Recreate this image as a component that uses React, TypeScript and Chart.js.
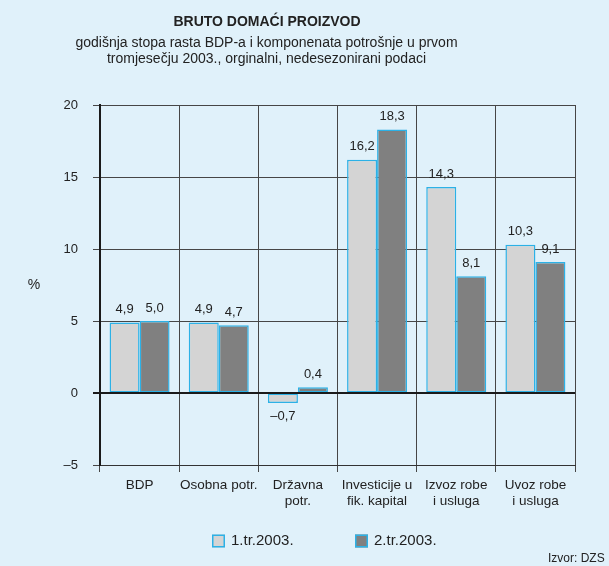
import React, { useEffect, useRef } from "react";
import { Chart, registerables } from "chart.js";

Chart.register(...registerables);

const categories: (string | string[])[] = [
  "BDP",
  "Osobna potr.",
  ["Državna", "potr."],
  ["Investicije u", "fik. kapital"],
  ["Izvoz robe", "i usluga"],
  ["Uvoz robe", "i usluga"],
];
const q1Values = [4.9, 4.9, -0.7, 16.2, 14.3, 10.3];
const q2Values = [5.0, 4.7, 0.4, 18.3, 8.1, 9.1];
const seriesNames = ["1.tr.2003.", "2.tr.2003."];
const yTicksMin = -5;
const yTicksMax = 20;
const yStep = 5;
const titleText = "BRUTO DOMAĆI PROIZVOD";
const subtitleLines = [
  "godišnja stopa rasta BDP-a i komponenata potrošnje u prvom",
  "tromjesečju 2003., orginalni, nedesezonirani podaci",
];
const yUnit = "%";
const sourceText = "Izvor: DZS";

const FONT = "'Liberation Sans', Arial, Helvetica, sans-serif";
const BG = "#e0f1fa";
const LIGHT = "#d4d4d4";
const DARK = "#808080";
const CYAN = "#2cb1e6";
const GRID = "#464646";
const TEXT = "#222";

const fmt = (v: number) =>
  (v < 0 ? "\u2013" : "") + Math.abs(v).toFixed(1).replace(".", ",");

const titlePlugin = {
  id: "titles",
  afterDraw(chart: any) {
    const { ctx } = chart;
    ctx.save();
    ctx.fillStyle = TEXT;
    ctx.textAlign = "center";
    ctx.textBaseline = "alphabetic";
    ctx.font = `bold 14px ${FONT}`;
    ctx.fillText(titleText, 267, 25.5);
    ctx.font = `14px ${FONT}`;
    ctx.fillText(subtitleLines[0], 266.5, 46.5);
    ctx.fillText(subtitleLines[1], 266.5, 63.3);
    ctx.restore();
  },
};

const overlayPlugin = {
  id: "overlay",
  afterDatasetsDraw(chart: any) {
    const { ctx, chartArea, scales } = chart;
    const y0 = scales.y.getPixelForValue(0);
    ctx.save();
    // zero line
    ctx.strokeStyle = "#1a1a1a";
    ctx.lineWidth = 2;
    ctx.beginPath();
    ctx.moveTo(chartArea.left - 7, y0);
    ctx.lineTo(chartArea.right, y0);
    ctx.stroke();

    // value labels
    ctx.fillStyle = TEXT;
    ctx.font = `13px ${FONT}`;
    ctx.textAlign = "center";
    ctx.textBaseline = "middle";
    chart.data.datasets.forEach((ds: any, i: number) => {
      const meta = chart.getDatasetMeta(i);
      meta.data.forEach((el: any, j: number) => {
        const v = ds.data[j];
        const y = v >= 0 ? el.y - 13 : el.y + 13;
        ctx.fillText(fmt(v), el.x, y);
      });
    });

    // y unit
    ctx.font = `14px ${FONT}`;
    ctx.fillText(yUnit, 34, 285);

    // legend
    const legendY = 541;
    const items = [
      { x: 212, color: LIGHT, label: seriesNames[0] },
      { x: 355, color: DARK, label: seriesNames[1] },
    ];
    items.forEach((it) => {
      ctx.fillStyle = it.color;
      ctx.fillRect(it.x, legendY - 6.5, 13, 13);
      ctx.strokeStyle = CYAN;
      ctx.lineWidth = 1.5;
      ctx.strokeRect(it.x + 0.75, legendY - 5.75, 11.5, 11.5);
      ctx.fillStyle = TEXT;
      ctx.font = `15px ${FONT}`;
      ctx.textAlign = "left";
      ctx.fillText(it.label, it.x + 19, legendY);
    });

    // source
    ctx.font = `12px ${FONT}`;
    ctx.fillStyle = TEXT;
    ctx.textAlign = "left";
    ctx.fillText(sourceText, 548, 559);
    ctx.restore();
  },
};

export default function App() {
  const ref = useRef<HTMLCanvasElement | null>(null);
  useEffect(() => {
    if (!ref.current) return;
    const chart = new Chart(ref.current, {
      type: "bar",
      data: {
        labels: categories as any,
        datasets: [
          {
            label: seriesNames[0],
            data: q1Values,
            backgroundColor: LIGHT,
            borderColor: CYAN,
            borderWidth: 1.5,
            borderSkipped: false,
            categoryPercentage: 0.758,
            barPercentage: 1,
          },
          {
            label: seriesNames[1],
            data: q2Values,
            backgroundColor: DARK,
            borderColor: CYAN,
            borderWidth: 1.5,
            borderSkipped: false,
            categoryPercentage: 0.758,
            barPercentage: 1,
          },
        ],
      },
      options: {
        animation: false,
        responsive: true,
        maintainAspectRatio: false,
        layout: { padding: { left: 0, right: 34, top: 105, bottom: 0 } },
        plugins: {
          legend: { display: false },
          tooltip: { enabled: false },
          title: { display: false },
          subtitle: { display: false },
        },
        scales: {
          x: {
            grid: {
              offset: true,
              color: GRID,
              lineWidth: 1,
              drawTicks: true,
              tickLength: 7,
            },
            border: { display: true, color: "#333", width: 1 },
            ticks: {
              color: TEXT,
              font: { family: FONT, size: 13.5, lineHeight: 16 / 13.5 },
              padding: 5,
              maxRotation: 0,
              minRotation: 0,
              autoSkip: false,
            },
            afterFit: (scale: any) => {
              scale.height = 101;
            },
          },
          y: {
            min: yTicksMin,
            max: yTicksMax,
            ticks: {
              stepSize: yStep,
              color: TEXT,
              font: { family: FONT, size: 13 },
              padding: 15,
              callback: (v: any) => (v < 0 ? "\u2013" + Math.abs(v) : String(v)),
            },
            grid: {
              color: GRID,
              lineWidth: 1,
              drawTicks: true,
              tickLength: 7,
            },
            border: { display: true, color: "#1a1a1a", width: 2 },
            afterFit: (scale: any) => {
              scale.width = 100;
            },
          },
        },
      },
      plugins: [overlayPlugin, titlePlugin],
    });
    return () => chart.destroy();
  }, []);

  return (
    <div
      style={{
        position: "fixed",
        left: 0,
        top: 0,
        width: 609,
        height: 566,
        background: BG,
      }}
    >
      <canvas ref={ref} />
    </div>
  );
}
